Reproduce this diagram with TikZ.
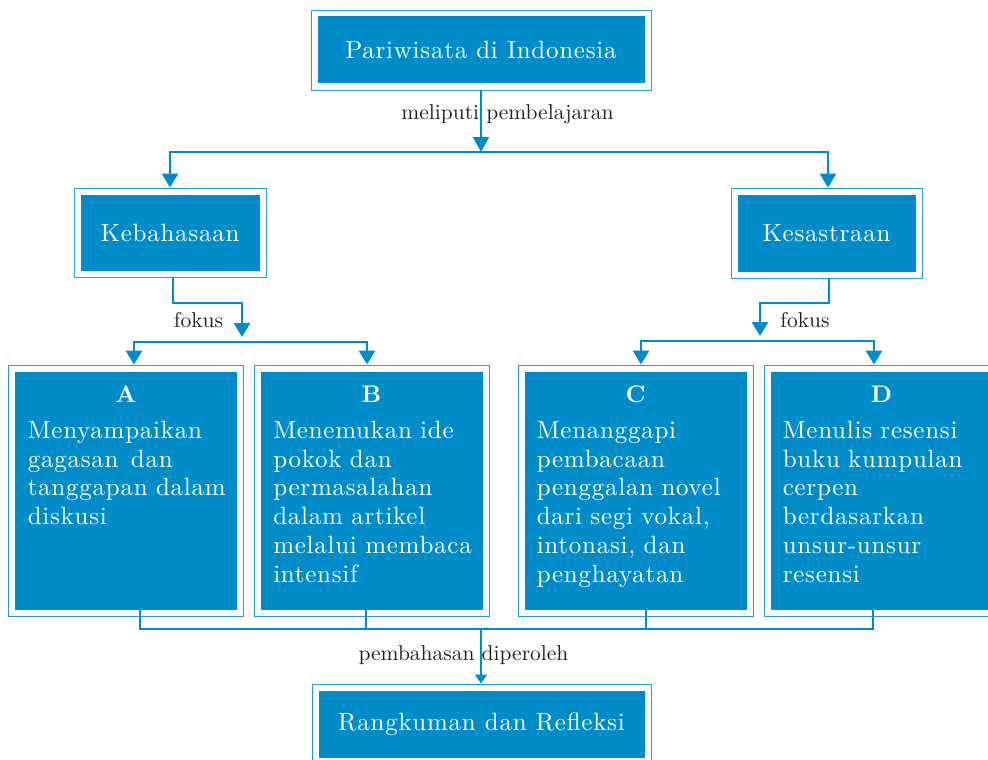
\documentclass[tikz,border=0pt]{standalone}
\usepackage{fontspec}
\setmainfont{lmroman10-regular.otf}[BoldFont=lmroman10-bold.otf]
\newfontfamily\spacedfont{lmroman10-regular.otf}[BoldFont=lmroman10-bold.otf, LetterSpace=3]
\usepackage{tikz}
\usetikzlibrary{arrows.meta}

\definecolor{boxblue}{RGB}{0,139,201}
\definecolor{frameblue}{RGB}{40,155,212}
\definecolor{labelgray}{RGB}{35,31,32}

\tikzset{
  framebox/.style={draw=frameblue, line width=0.9pt, inner sep=0pt,
    path picture={\fill[boxblue] ([shift={(6.5pt,-6.5pt)}]path picture bounding box.north west)
      rectangle ([shift={(-6.5pt,6.5pt)}]path picture bounding box.south east);}},
  headbox/.style={framebox, text=white, font=\spacedfont\fontsize{25}{30}\selectfont},
  topicbox/.style={framebox, minimum width=235pt, minimum height=251pt},
  topicletter/.style={anchor=base, text=white, inner sep=0pt, font=\fontsize{24}{28}\selectfont\bfseries},
  topictext/.style={anchor=base west, text=white, text width=212pt, align=left, inner sep=0pt,
    font=\spacedfont\fontsize{25}{28.7}\selectfont},
  lbl/.style={anchor=base, text=labelgray, inner sep=0pt, font=\fontsize{21.5}{25}\selectfont},
  conn/.style={draw=boxblue, line width=2.8pt},
  bigtip/.style={-{Triangle[width=16pt,length=14pt]}},
  twotips/.style={{Triangle[width=16pt,length=14pt]}-{Triangle[width=16pt,length=14pt]}}
}

\begin{document}
\begin{tikzpicture}[x=1pt,y=-1pt]
  \useasboundingbox (0,0) rectangle (988,760);

  % boxes
  \node[headbox, minimum width=340pt, minimum height=80pt] (pariwisata) at (481,50) {Pariwisata di Indonesia};
  \node[headbox, minimum width=192pt, minimum height=89pt] (kebahasaan) at (170,232.5) {Kebahasaan};
  \node[headbox, minimum width=191pt, minimum height=90pt] (kesastraan) at (826.5,233) {Kesastraan};
  \node[topicbox] (A) at (126,490.5) {};
  \node[topicbox] (B) at (371.5,490.5) {};
  \node[topicbox] (C) at (635.5,490.5) {};
  \node[topicbox] (D) at (881.5,490.5) {};
  \node[headbox, minimum width=339pt, minimum height=80pt] (rangkuman) at (481.5,724) {Rangkuman dan Refleksi};

  % texts in the boxes
  \node[topicletter] (Aletter) at ([yshift=-38pt]A.north) {A};
  \node[topicletter] (Bletter) at ([yshift=-38pt]B.north) {B};
  \node[topicletter] (Cletter) at ([yshift=-38pt]C.north) {C};
  \node[topicletter] (Dletter) at ([yshift=-38pt]D.north) {D};
  \node[topictext] (Atext) at ([shift={(19.5pt,-74pt)}]A.north west)
    {Menyampaikan\\ gagasan\ \,dan\\ tanggapan dalam\\ diskusi};
  \node[topictext] (Btext) at ([shift={(19.5pt,-74pt)}]B.north west)
    {Menemukan ide\\ pokok dan\\ permasalahan\\ dalam artikel\\ melalui membaca\\ intensif};
  \node[topictext] (Ctext) at ([shift={(19pt,-74pt)}]C.north west)
    {Menanggapi\\ pembacaan\\ penggalan novel\\ dari segi vokal,\\ intonasi, dan\\ penghayatan};
  \node[topictext] (Dtext) at ([shift={(19pt,-74pt)}]D.north west)
    {Menulis resensi\\ buku kumpulan\\ cerpen\\ berdasarkan\\ unsur-unsur\\ resensi};

  % top branch
  \coordinate (split) at (481,152);
  \draw[conn, line width=1.7pt, -{Triangle[width=16pt,length=15pt]}] (pariwisata.south) -- (pariwisata.south |- split);
  \node[lbl] (meliputi) at (507.5,119) {meliputi pembelajaran};
  \draw[conn, twotips] (kebahasaan.north) |- (split) -| ([xshift=1.5pt]kesastraan.north);

  % left branch
  \coordinate (kebfokus) at (242,303);
  \coordinate (kebsplit) at (242,342);
  \draw[conn, bigtip] ([xshift=3pt]kebahasaan.south) |- (kebfokus) -- ([yshift=5pt]kebsplit);
  \draw[conn, twotips] ([xshift=8pt]A.north) |- (kebsplit) -| ([xshift=-4.5pt]B.north);
  \node[lbl] (fokuskiri) at (198.5,327) {fokus};

  % right branch
  \coordinate (kesfokus) at (760,303);
  \coordinate (kessplit) at (760,341);
  \draw[conn, bigtip] ([xshift=2.5pt]kesastraan.south) |- (kesfokus) -- ([yshift=5pt]kessplit);
  \draw[conn, twotips] ([xshift=5.5pt]C.north) |- (kessplit) -| ([xshift=-7.5pt]D.north);
  \node[lbl] (fokuskanan) at (805,327) {fokus};

  % bottom join
  \coordinate (join) at (481,629);
  \draw[conn, line width=2pt] ([shift={(14pt,6.5pt)}]A.south) |- (join) -| ([shift={(-8.5pt,6.5pt)}]D.south);
  \draw[conn, line width=2pt] ([shift={(-5.5pt,6.5pt)}]B.south) |- (join);
  \draw[conn, line width=2pt] ([shift={(10.5pt,6.5pt)}]C.south) |- (join);
  \draw[conn, line width=1.3pt, -{Triangle[width=12pt,length=9pt]}] (join) -- (join |- rangkuman.north);
  \node[lbl] (pembahasan) at (463.5,660) {pembahasan diperoleh};
\end{tikzpicture}
\end{document}
